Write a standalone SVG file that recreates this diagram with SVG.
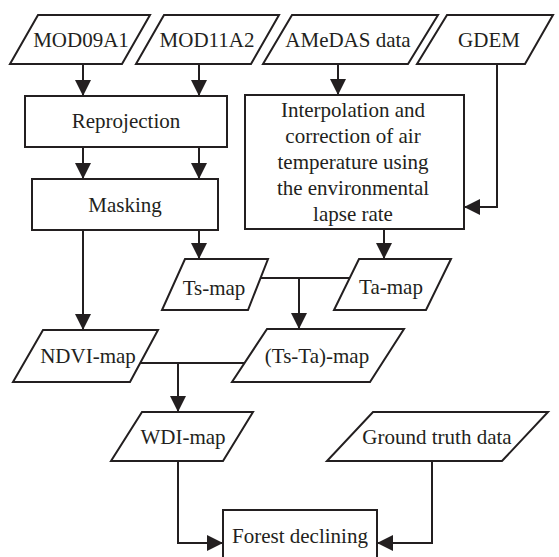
<svg xmlns="http://www.w3.org/2000/svg" width="559" height="557" viewBox="0 0 559 557">
<style>
.shape{fill:#fff;stroke:#231f20;stroke-width:2;stroke-linejoin:miter}
.lbl{font-family:"Liberation Serif","Times New Roman",serif;font-size:21px;fill:#231f20;text-anchor:middle}
.conn{fill:none;stroke:#231f20;stroke-width:2}
.arr{marker-end:url(#ah)}
</style>
<defs>
<marker id="ah" viewBox="0 0 16 16" refX="16" refY="8" markerWidth="16" markerHeight="16" markerUnits="userSpaceOnUse" orient="auto">
<path d="M0,0 L16,8 L0,16 z" fill="#231f20"/>
</marker>
</defs>
<rect width="559" height="557" fill="#fff"/>
<g id="connectors">
<path class="conn arr" d="M83 64 V96"/>
<path class="conn arr" d="M199 64 V96"/>
<path class="conn arr" d="M83 147 V179"/>
<path class="conn arr" d="M199 147 V179"/>
<path class="conn arr" d="M338 64 V95"/>
<path class="conn arr" d="M497 64 V207 H464"/>
<path class="conn arr" d="M384 229 V259"/>
<path class="conn arr" d="M199 230 V259"/>
<path class="conn arr" d="M83 230 V330"/>
<path class="conn" d="M260 278 H350"/>
<path class="conn arr" d="M299 278 V329"/>
<path class="conn" d="M140 363 H245"/>
<path class="conn arr" d="M178 363 V412"/>
<path class="conn arr" d="M178 461 V543 H223"/>
<path class="conn arr" d="M432 461 V543 H377"/>
</g>
<g id="mod09a1"><polygon class="shape" points="38,15 150,15 122,64 10,64"/><text class="lbl" x="81" y="47">MOD09A1</text></g>
<g id="mod11a2"><polygon class="shape" points="164,15 279,15 251,64 136,64"/><text class="lbl" x="207" y="47">MOD11A2</text></g>
<g id="amedas"><polygon class="shape" points="292,15 438,15 408,64 263,64"/><text class="lbl" x="348" y="47">AMeDAS data</text></g>
<g id="gdem"><polygon class="shape" points="447,15 553,15 525,64 417,64"/><text class="lbl" x="489" y="47">GDEM</text></g>
<g id="reprojection"><rect class="shape" x="25" y="96" width="202" height="51"/><text class="lbl" x="126" y="128">Reprojection</text></g>
<g id="masking"><rect class="shape" x="32" y="179" width="186" height="51"/><text class="lbl" x="125" y="212">Masking</text></g>
<g id="interpolation"><rect class="shape" x="245" y="95" width="219" height="134"/>
<text class="lbl" x="353" y="117">Interpolation and</text>
<text class="lbl" x="353" y="143">correction of air</text>
<text class="lbl" x="353" y="169">temperature using</text>
<text class="lbl" x="353" y="195">the environmental</text>
<text class="lbl" x="353" y="221">lapse rate</text></g>
<g id="ts-map"><polygon class="shape" points="185,259 268,259 248,310 162,310"/><text class="lbl" x="214" y="295">Ts-map</text></g>
<g id="ta-map"><polygon class="shape" points="359,259 451,259 426,310 334,310"/><text class="lbl" x="391" y="294">Ta-map</text></g>
<g id="ndvi-map"><polygon class="shape" points="43,330 158,330 130,382 13,382"/><text class="lbl" x="88" y="363">NDVI-map</text></g>
<g id="tsta-map"><polygon class="shape" points="267,329 404,329 370,382 232,382"/><text class="lbl" x="317" y="363">(Ts-Ta)-map</text></g>
<g id="wdi-map"><polygon class="shape" points="142,412 253,412 223,461 111,461"/><text class="lbl" x="183" y="444">WDI-map</text></g>
<g id="ground-truth"><polygon class="shape" points="373,412 548,412 502,461 327,461"/><text class="lbl" x="437" y="444">Ground truth data</text></g>
<g id="forest"><rect class="shape" x="223" y="510" width="154" height="60"/><text class="lbl" x="300" y="543">Forest declining</text></g>
</svg>
